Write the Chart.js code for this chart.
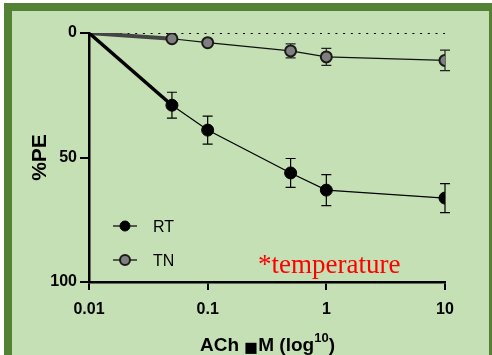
<!DOCTYPE html>
<html>
<head>
<meta charset="utf-8">
<script src="https://cdn.jsdelivr.net/npm/chart.js@4.4.1/dist/chart.umd.min.js"></script>
<style>
  html, body { margin: 0; padding: 0; background: #fff; overflow: hidden; }
  #marco {
    position: absolute; left: 4px; top: 3px;
    width: 477px; height: 400px;
    background: #c5e0b4;
    border: 8px solid #548235;
  }
  #myChart { position: absolute; left: 0; top: 0; }
</style>
</head>
<body>
<div id="marco"></div>
<canvas id="myChart" width="492" height="355"></canvas>
<script>
// ACh dose (uM), first point is the common origin
const dosis = [0.01, 0.05, 0.1, 0.5, 1, 10];
const rtMedia = [0, 29.0, 39.0, 56.2, 63.1, 66.3];
const rtError = [0, 5.2, 5.6, 5.8, 6.2, 5.8];
const tnMedia = [0, 2.3, 3.9, 7.2, 9.6, 11.0];
const tnError = [0, 0.8, 0.8, 2.8, 3.4, 4.1];
const ticksX = [0.01, 0.1, 1, 10];
const ticksY = [0, 50, 100];
const lineaCero = [0.01, 10];

const fuente = '"Liberation Sans", Arial, sans-serif';

let puntos = function (medias) {
    return dosis.map((d, i) => ({ x: d, y: medias[i] }));
};

// error bars, drawn under the markers
const barrasError = {
    id: 'barrasError',
    beforeDatasetsDraw(chart) {
        const c = chart.ctx;
        const sx = chart.scales.x, sy = chart.scales.y;
        chart.data.datasets.forEach(ds => {
            if (!ds.errores) return;
            c.save();
            c.strokeStyle = ds.colorError;
            c.lineWidth = 1.2;
            ds.data.forEach((p, i) => {
                const e = ds.errores[i];
                if (!e) return;
                const px = sx.getPixelForValue(p.x);
                const y1 = sy.getPixelForValue(p.y - e);
                const y2 = sy.getPixelForValue(p.y + e);
                c.beginPath();
                c.moveTo(px, y1); c.lineTo(px, y2);
                c.moveTo(px - 5, y1); c.lineTo(px + 5, y1);
                c.moveTo(px - 5, y2); c.lineTo(px + 5, y2);
                c.stroke();
            });
            c.restore();
        });
    }
};

// legend inside the plot, x title with superscript and the red note
const extras = {
    id: 'extras',
    afterDraw(chart) {
        const c = chart.ctx;
        c.save();
        const filas = [226, 260];
        chart.data.datasets.filter(ds => ds.label).forEach((ds, i) => {
            const y = filas[i];
            c.strokeStyle = '#000';
            c.lineWidth = 1.2;
            c.beginPath(); c.moveTo(113, y); c.lineTo(137, y); c.stroke();
            c.beginPath(); c.arc(125, y, 5, 0, Math.PI * 2);
            c.fillStyle = ds.pointBackgroundColor;
            c.fill();
            c.lineWidth = ds.pointBorderWidth;
            c.strokeStyle = ds.pointBorderColor;
            c.stroke();
            c.fillStyle = '#000';
            c.font = '16px ' + fuente;
            c.textBaseline = 'middle';
            c.textAlign = 'left';
            c.fillText(ds.label, 153, y + 2);
        });

        // x axis title: "ACh ■M (log10)" with the box glyph a bit bigger
        const grande = 'bold 19px ' + fuente;
        const caja = 'bold 23px ' + fuente;
        const chico = 'bold 13px ' + fuente;
        const partes = [
            { t: 'ACh ', f: grande, dy: 0 },
            { t: '\u25A0', f: caja, dy: 4 },
            { t: 'M (log', f: grande, dy: 0 },
            { t: '10', f: chico, dy: -9 },
            { t: ')', f: grande, dy: 0 }
        ];
        let total = 0;
        partes.forEach(p => { c.font = p.f; p.w = c.measureText(p.t).width; total += p.w; });
        let x = 267.5 - total / 2;
        const base = 351;
        c.fillStyle = '#000';
        c.textBaseline = 'alphabetic';
        c.textAlign = 'left';
        partes.forEach(p => {
            c.font = p.f;
            c.fillText(p.t, x, base + p.dy);
            x += p.w;
        });

        c.font = '27px "Liberation Serif", "Times New Roman", serif';
        c.fillStyle = '#ff0000';
        c.fillText('*temperature', 258, 273);
        c.restore();
    }
};

const contenedor = document.getElementById('myChart').getContext('2d');
window.myCharts = new Chart(contenedor, {
    type: 'line',
    data: {
        datasets: [{
            label: 'RT',
            data: puntos(rtMedia),
            errores: rtError,
            colorError: '#000',
            borderColor: '#000',
            borderWidth: 1.2,
            pointRadius: dosis.map((d, i) => i === 0 ? 0 : 6),
            pointBackgroundColor: '#000',
            pointBorderColor: '#000',
            pointBorderWidth: 1,
            segment: {
                borderWidth: ctx => ctx.p0DataIndex === 0 ? 3.5 : 1.2
            }
        }, {
            label: 'TN',
            data: puntos(tnMedia),
            errores: tnError,
            colorError: '#222',
            borderColor: '#111',
            borderWidth: 1.2,
            pointRadius: dosis.map((d, i) => i === 0 ? 0 : 5.5),
            pointBackgroundColor: '#7f7f7f',
            pointBorderColor: '#1a1a1a',
            pointBorderWidth: 2,
            segment: {
                borderWidth: ctx => ctx.p0DataIndex === 0 ? 4 : 1.2,
                borderColor: ctx => ctx.p0DataIndex === 0 ? '#444' : '#111'
            }
        }, {
            label: '',
            data: lineaCero.map(v => ({ x: v, y: 0 })),
            borderColor: '#000',
            borderWidth: 2,
            borderDash: [2, 5.7],
            pointRadius: 0
        }]
    },
    options: {
        responsive: false,
        animation: false,
        layout: { padding: { left: 0, top: 33, right: 47, bottom: 0 } },
        plugins: { legend: { display: false }, tooltip: { enabled: false } },
        scales: {
            x: {
                type: 'logarithmic',
                min: 0.01,
                max: 10,
                afterFit: s => { s.height = 73; },
                afterBuildTicks: s => { s.ticks = ticksX.map(v => ({ value: v })); },
                grid: { drawOnChartArea: false, drawTicks: true, tickLength: 8, color: '#000', lineWidth: 2 },
                border: { display: true, color: '#000', width: 2.5 },
                ticks: {
                    color: '#000',
                    padding: 10,
                    autoSkip: false,
                    maxRotation: 0,
                    font: { family: fuente, size: 16, weight: 'bold' },
                    callback: v => String(v)
                }
            },
            y: {
                min: 0,
                max: 100,
                reverse: true,
                afterFit: s => { s.width = 89; },
                afterBuildTicks: s => { s.ticks = ticksY.map(v => ({ value: v })); },
                grid: { drawOnChartArea: false, drawTicks: true, tickLength: 9, color: '#000', lineWidth: 2 },
                border: { display: true, color: '#000', width: 2.5 },
                ticks: {
                    color: '#000',
                    padding: 3,
                    font: { family: fuente, size: 16, weight: 'bold' }
                },
                title: {
                    display: true,
                    text: '%PE',
                    color: '#000',
                    padding: { top: 28, bottom: 0 },
                    font: { family: fuente, size: 21, weight: 'bold' }
                }
            }
        }
    },
    plugins: [barrasError, extras]
});
</script>
</body>
</html>
